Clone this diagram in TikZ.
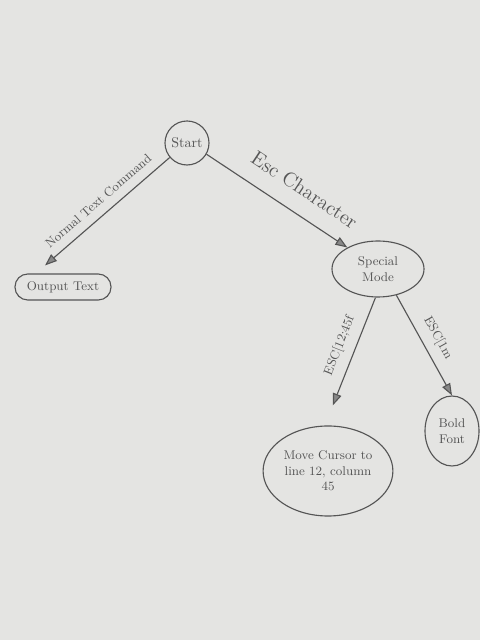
\documentclass[tikz,border=0pt]{standalone}
\usepackage{tikz}
\usetikzlibrary{positioning,shapes,arrows.meta,calc}
\definecolor{paper}{HTML}{E4E4E2}
\definecolor{pencil}{HTML}{555555}

\begin{document}
\begin{tikzpicture}[
  state/.style={
    draw=pencil,
    thick,
    ellipse,
    inner sep=1pt,
    align=center,
    text=pencil,
  },
  edge/.style={
    draw=pencil,
    thick,
    -{Triangle[length=3mm,width=2.2mm,fill=pencil!70]},
  },
  lbl/.style={
    sloped,
    text=pencil,
    font=\small,
  }]
  \fill[paper] (0,0) rectangle (12,16);
  \useasboundingbox (0,0) rectangle (12,16);
  \node[state, circle, minimum size=1.1cm] (start) at (4.675,12.425) {Start};
  \node[state, rectangle, rounded corners=3.2mm, minimum width=2.4cm,
    minimum height=0.65cm, font=\small] (output) at (1.575,8.825) {Output Text};
  \node[state, minimum width=2.3cm, minimum height=1.4cm, font=\small]
    (special) at (9.45,9.275) {Special\\Mode};
  \node[state, minimum width=3.0cm, minimum height=2.25cm, font=\small]
    (move) at (8.2,4.225) {Move Cursor to\\line 12, column\\45};
  \node[state, minimum width=1.35cm, minimum height=1.75cm, font=\small]
    (bold) at (11.3,5.225) {Bold\\Font};
  % transitions
  \draw[edge] (start.220) -- ([xshift=-4.5mm,yshift=2mm]output.north)
    node[lbl, midway, above=1mm] {Normal Text Command};
  \draw[edge] (start.-30) -- (special.145)
    node[lbl, pos=0.6, above=3mm, font=\Large] {Esc Character};
  \draw[edge] (special.-95) -- ([xshift=1.2mm,yshift=5mm]move.north)
    node[lbl, midway, above=1mm] {ESC[12;45f};
  \draw[edge] (special.-55) -- (bold.north)
    node[lbl, pos=0.5, above=1mm] {ESC[1m};
\end{tikzpicture}
\end{document}
